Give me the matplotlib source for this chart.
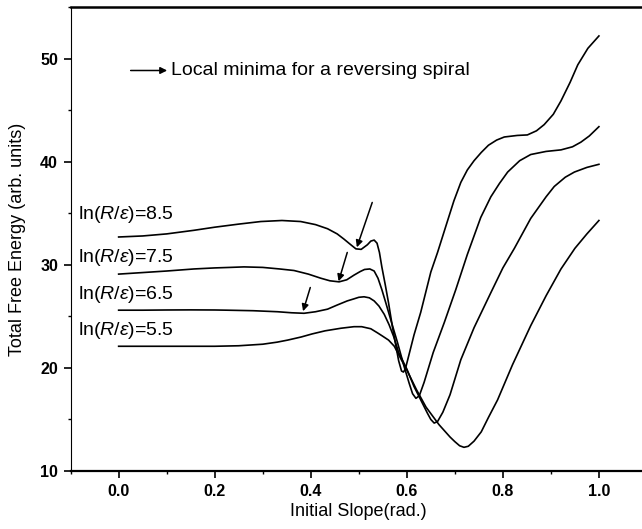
import numpy as np
import matplotlib
matplotlib.use("Agg")
import matplotlib.pyplot as plt
from matplotlib.ticker import MultipleLocator

plt.rcParams['font.family'] = ['Liberation Sans', 'DejaVu Sans']
plt.rcParams['mathtext.fontset'] = 'custom'
plt.rcParams['mathtext.rm'] = 'Liberation Sans'
plt.rcParams['mathtext.it'] = 'Liberation Sans:italic'

# energy curves, one per ln(R/eps)
x_85 = [0, 0.05, 0.10, 0.157, 0.20, 0.25, 0.296, 0.34, 0.379, 0.41, 0.435, 0.455,
        0.469, 0.482, 0.494, 0.505, 0.518, 0.525, 0.532, 0.538, 0.543, 0.548, 0.555,
        0.562, 0.570, 0.577, 0.583, 0.589, 0.593, 0.597, 0.603, 0.615, 0.629, 0.650,
        0.664, 0.683, 0.698, 0.7125, 0.726, 0.740, 0.755, 0.770, 0.787, 0.803, 0.830,
        0.851, 0.870, 0.886, 0.905, 0.921, 0.940, 0.956, 0.977, 1.0]
y_85 = [32.7, 32.8, 33.0, 33.35, 33.65, 33.95, 34.2, 34.3, 34.2, 33.9, 33.5, 33.0,
        32.5, 32.0, 31.55, 31.5, 31.95, 32.3, 32.4, 32.1, 31.2, 29.8, 28.1,
        26.3, 24.0, 22.2, 20.7, 19.7, 19.6, 19.9, 21.0, 23.2, 25.4, 29.3,
        31.2, 34.0, 36.2, 38.0, 39.2, 40.1, 40.9, 41.6, 42.1, 42.4, 42.55,
        42.6, 43.0, 43.6, 44.6, 45.9, 47.7, 49.4, 51.0, 52.2]

x_75 = [0, 0.05, 0.10, 0.157, 0.20, 0.232, 0.261, 0.30, 0.335, 0.365, 0.395, 0.421,
        0.440, 0.459, 0.475, 0.490, 0.503, 0.512, 0.523, 0.532, 0.540, 0.548, 0.557,
        0.567, 0.581, 0.594, 0.605, 0.612, 0.619, 0.626, 0.636, 0.655, 0.678, 0.702,
        0.726, 0.754, 0.775, 0.793, 0.810, 0.835, 0.858, 0.890, 0.921, 0.945, 0.9625,
        0.980, 1.0]
y_75 = [29.1, 29.25, 29.4, 29.6, 29.7, 29.75, 29.8, 29.75, 29.6, 29.45, 29.1, 28.7,
        28.45, 28.35, 28.55, 29.0, 29.35, 29.55, 29.6, 29.4, 28.7, 27.6, 26.2,
        24.6, 22.4, 20.2, 18.5, 17.5, 17.05, 17.3, 18.6, 21.5, 24.4, 27.6,
        31.0, 34.6, 36.6, 37.9, 39.0, 40.1, 40.7, 41.0, 41.15, 41.45, 41.9,
        42.5, 43.4]

x_65 = [0, 0.05, 0.10, 0.15, 0.20, 0.226, 0.28, 0.331, 0.36, 0.386, 0.41, 0.435,
        0.455, 0.476, 0.490, 0.500, 0.511, 0.522, 0.532, 0.542, 0.553, 0.563, 0.573,
        0.583, 0.600, 0.615, 0.629, 0.643, 0.650, 0.657, 0.664, 0.675, 0.690, 0.7125,
        0.740, 0.775, 0.800, 0.824, 0.858, 0.890, 0.907, 0.930, 0.949, 0.975, 1.0]
y_65 = [25.6, 25.6, 25.62, 25.63, 25.62, 25.6, 25.55, 25.45, 25.35, 25.3, 25.45, 25.7,
        26.1, 26.5, 26.7, 26.85, 26.9, 26.8, 26.5, 26.0, 25.2, 24.2, 23.0,
        21.5, 19.9, 18.2, 16.9, 15.6, 15.0, 14.65, 14.8, 15.7, 17.4, 20.8,
        23.9, 27.3, 29.7, 31.6, 34.5, 36.6, 37.6, 38.5, 39.0, 39.45, 39.75]

x_55 = [0, 0.05, 0.10, 0.15, 0.20, 0.25, 0.30, 0.33, 0.352, 0.38, 0.403, 0.43,
        0.463, 0.49, 0.506, 0.525, 0.539, 0.549, 0.562, 0.574, 0.584, 0.600, 0.620,
        0.640, 0.667, 0.690, 0.700, 0.710, 0.719, 0.728, 0.740, 0.755, 0.770, 0.789,
        0.820, 0.858, 0.890, 0.921, 0.950, 0.975, 1.0]
y_55 = [22.1, 22.1, 22.1, 22.1, 22.1, 22.15, 22.3, 22.5, 22.7, 23.0, 23.3, 23.6,
        23.85, 24.0, 24.0, 23.8, 23.4, 23.1, 22.7, 22.1, 21.2, 19.8, 17.9,
        16.2, 14.5, 13.3, 12.85, 12.45, 12.3, 12.4, 12.9, 13.8, 15.2, 16.9,
        20.3, 24.1, 27.0, 29.6, 31.6, 33.0, 34.3]

labels = [r'ln($R$/$\epsilon$)=8.5', r'ln($R$/$\epsilon$)=7.5',
          r'ln($R$/$\epsilon$)=6.5', r'ln($R$/$\epsilon$)=5.5']
label_y = [34.9, 30.7, 27.1, 23.6]

fig = plt.figure(figsize=(6.42, 5.29), dpi=100)
ax = fig.add_axes([0.110, 0.1096, 0.8977, 0.877])

for xs, ys in [(x_85, y_85), (x_75, y_75), (x_65, y_65), (x_55, y_55)]:
    ax.plot(xs, ys, color='black', lw=1.2)

for txt, yy in zip(labels, label_y):
    ax.text(-0.085, yy, txt, fontsize=14, va='center', ha='left')

# arrows pointing at the local minima
arr = dict(arrowstyle='-|>', color='black', lw=1.1, mutation_scale=10,
           shrinkA=0, shrinkB=0)
ax.annotate('', xy=(0.496, 31.7), xytext=(0.528, 36.05), arrowprops=arr)
ax.annotate('', xy=(0.458, 28.4), xytext=(0.476, 31.2), arrowprops=arr)
ax.annotate('', xy=(0.384, 25.5), xytext=(0.399, 27.8), arrowprops=arr)
ax.annotate('', xy=(0.101, 48.85), xytext=(0.025, 48.85), arrowprops=arr)
ax.text(0.108, 48.85, 'Local minima for a reversing spiral', fontsize=14,
        va='center', ha='left')

ax.set_xlim(-0.1, 1.1)
ax.set_ylim(10, 55)
ax.xaxis.set_major_locator(MultipleLocator(0.2))
ax.xaxis.set_minor_locator(MultipleLocator(0.1))
ax.yaxis.set_major_locator(MultipleLocator(10))
ax.yaxis.set_minor_locator(MultipleLocator(5))
ax.set_xticks([0.0, 0.2, 0.4, 0.6, 0.8, 1.0])
ax.tick_params(which='major', direction='out', length=5, width=1.2, pad=4)
ax.tick_params(which='minor', direction='out', length=2.5, width=1.0)
for lab in ax.get_xticklabels() + ax.get_yticklabels():
    lab.set_fontweight('bold')
    lab.set_fontsize(11.5)

ax.spines['left'].set_linewidth(0.8)
ax.spines['bottom'].set_linewidth(1.6)
ax.spines['top'].set_linewidth(1.8)
ax.spines['right'].set_linewidth(1.6)

ax.set_xlabel('Initial Slope(rad.)', fontsize=13)
ax.set_ylabel('Total Free Energy (arb. units)', fontsize=13)
ax.yaxis.set_label_coords(-0.078, 0.5)
ax.xaxis.set_label_coords(0.5, -0.07)

fig.savefig('out.png', dpi=100)
